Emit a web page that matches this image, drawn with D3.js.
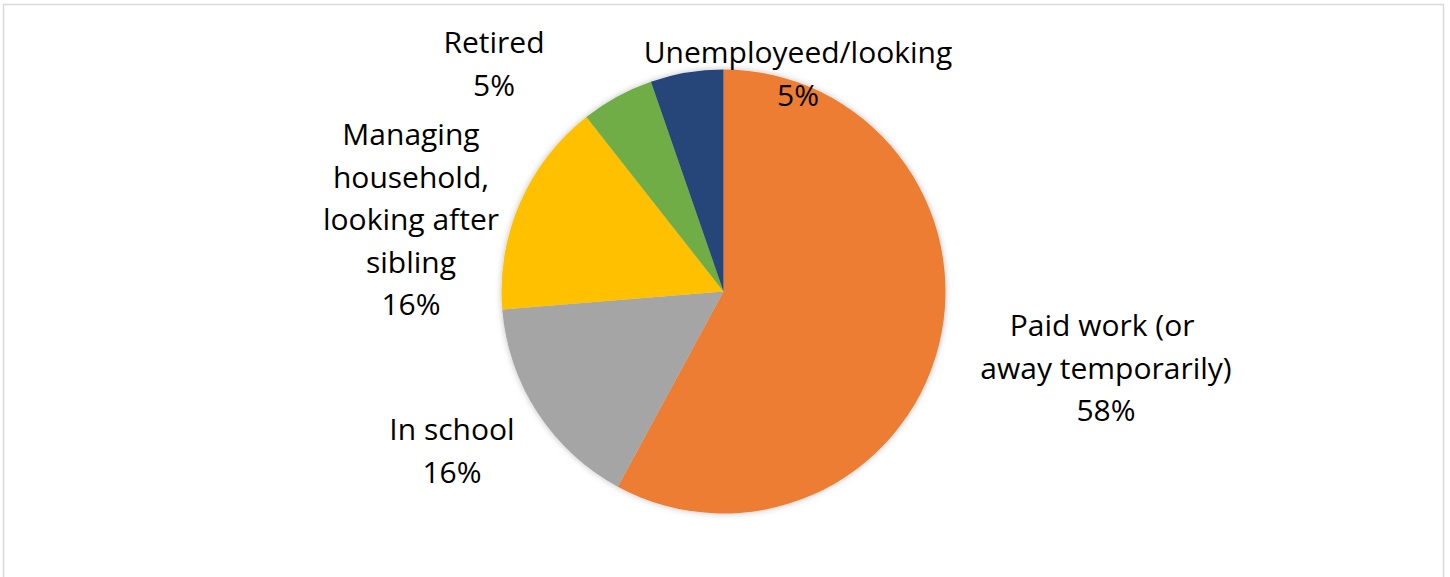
<!DOCTYPE html>
<html lang="en">
<head>
    <meta charset="UTF-8">
    <title>Activity status – pie</title>
    <script src="https://d3js.org/d3.v7.min.js"></script>
    <style>
        body { margin: 0; background: #fff; }
        text { font-family: "Open Sans", sans-serif; fill: #000; }
    </style>
</head>
<body>
<script>
    // data, clockwise from 12 o'clock
    const categories = ["Paid work (or |away temporarily)", "In school", "Managing|household,|looking after|sibling", "Retired", "Unemployeed/looking"];
    const values = [57.9, 15.8, 15.7, 5.3, 5.3];
    const pctLabels = ["58%", "16%", "16%", "5%", "5%"];
    const colors = ["#ED7D31", "#A5A5A5", "#FFC000", "#70AD47", "#264478"];
    // label anchor (center x, first baseline y)
    const labelPos = [[1106, 336], [452, 440], [411, 145], [494, 53], [798, 63]];

    const width = 1450, height = 577;
    const cx = 723.5, cy = 291.5, radius = 222;

    const svg = d3.select("body").append("svg")
        .attr("width", width)
        .attr("height", height);

    svg.append("rect")
        .attr("x", 3.5).attr("y", 4.5)
        .attr("width", 1440).attr("height", 600)
        .attr("fill", "#fff")
        .attr("stroke", "#d9d9d9")
        .attr("stroke-width", 1.5);

    const defs = svg.append("defs");
    const f = defs.append("filter").attr("id", "shadow")
        .attr("x", "-10%").attr("y", "-10%").attr("width", "120%").attr("height", "120%");
    f.append("feDropShadow")
        .attr("dx", 0).attr("dy", 0)
        .attr("stdDeviation", 3)
        .attr("flood-color", "#000")
        .attr("flood-opacity", 0.25);

    const pie = d3.pie().sort(null).value(d => d);
    const arc = d3.arc().innerRadius(0).outerRadius(radius);

    const g = svg.append("g")
        .attr("transform", `translate(${cx},${cy})`)
        .attr("filter", "url(#shadow)");

    g.selectAll("path")
        .data(pie(values))
        .enter().append("path")
        .attr("d", arc)
        .attr("fill", (d, i) => colors[i]);

    const lineH = 42.5;
    categories.forEach((c, i) => {
        const lines = c.split("|").concat([pctLabels[i]]);
        const t = svg.append("text")
            .attr("text-anchor", "middle")
            .attr("font-size", 30)
            .style("white-space", "pre");
        lines.forEach((l, j) => {
            t.append("tspan")
                .attr("x", labelPos[i][0])
                .attr("y", labelPos[i][1] + j * lineH)
                .text(l);
        });
    });
</script>
</body>
</html>
